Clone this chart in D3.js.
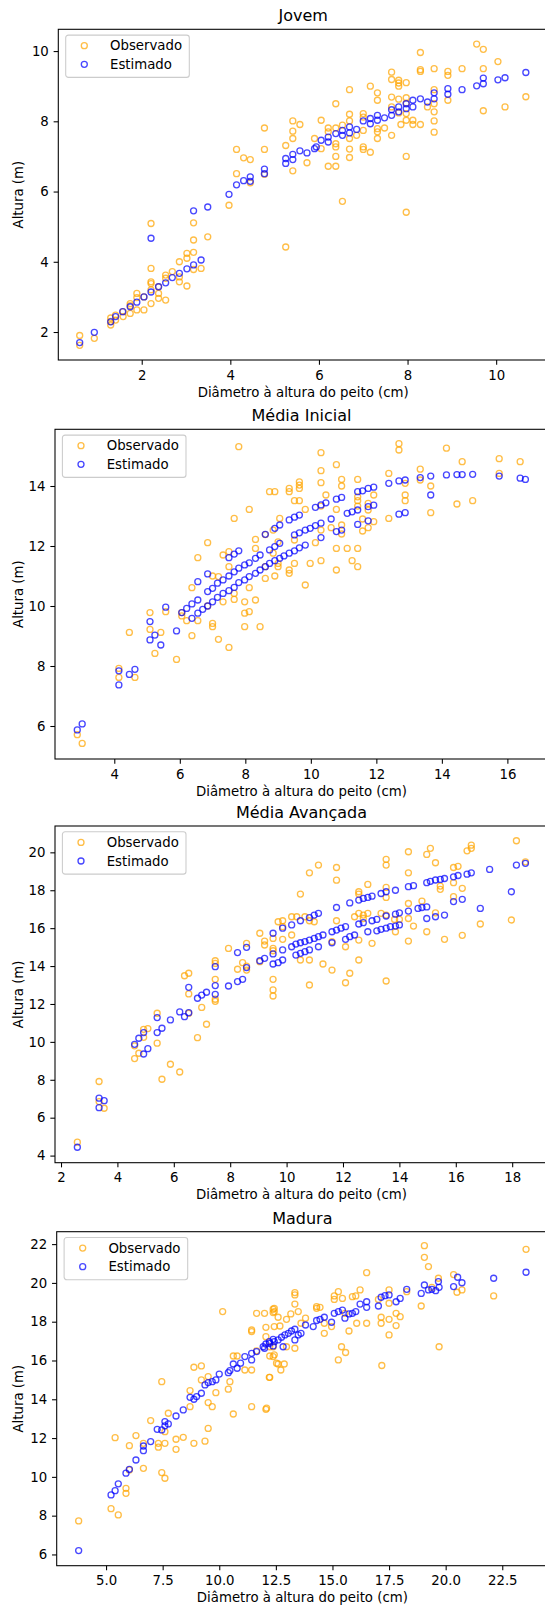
<!DOCTYPE html>
<html>
<head>
<meta charset="utf-8">
<script src="https://cdn.jsdelivr.net/npm/d3@7"></script>
<style>
  body { margin: 0; background: #fff; }
  svg { display: block; font-family: "DejaVu Sans", sans-serif; }
</style>
</head>
<body>
<svg id="chart" width="545" height="1606"></svg>
<script>
// ---- data: [dap (cm), altura (m)] ----
const jovemObs = [[0.6,1.9],[0.6,1.62],[0.93,1.82],[1.3,2.4],[1.3,2.3],[1.3,2.2],[1.41,2.34],[1.41,2.48],[1.58,2.44],[1.58,2.58],[1.74,2.53],[1.74,2.81],[1.74,2.75],[1.89,3.1],[1.89,2.98],[1.89,2.63],[2.05,2.63],[2.05,3.0],[2.21,5.09],[2.21,3.81],[2.21,3.43],[2.21,3.38],[2.21,2.81],[2.21,3.2],[2.38,2.96],[2.38,3.1],[2.38,3.29],[2.54,2.91],[2.54,3.62],[2.54,3.53],[2.69,3.72],[2.85,4.0],[2.85,3.43],[2.85,3.57],[3.02,4.24],[3.02,4.1],[3.02,3.31],[3.17,5.11],[3.17,4.62],[3.17,4.27],[3.17,3.78],[3.34,3.81],[3.49,4.71],[3.97,5.61],[4.14,7.2],[4.14,6.51],[4.3,6.96],[4.45,6.91],[4.45,6.25],[4.77,7.81],[4.77,7.2],[4.77,6.49],
  [5.25,7.31],[5.25,4.42],[5.41,8.01],[5.41,7.72],[5.41,7.51],[5.41,6.59],[5.57,7.91],[5.73,6.82],[5.9,7.51],[6.05,8.03],[6.05,7.22],[6.21,7.81],[6.21,7.7],[6.21,6.72],[6.38,8.5],[6.38,7.81],[6.38,7.36],[6.38,7.27],[6.38,7.0],[6.38,6.72],[6.53,5.72],[6.53,7.89],[6.69,8.9],[6.69,8.2],[6.69,8.01],[6.69,7.51],[6.69,7.21],[6.69,6.97],[6.85,7.6],[7.0,8.22],[7.0,8.12],[7.0,7.74],[7.0,7.27],[7.0,7.2],[7.16,9.0],[7.16,7.12],[7.32,8.81],[7.32,8.6],[7.32,7.79],[7.32,7.7],[7.32,7.51],[7.48,7.81],[7.64,9.4],[7.64,9.19],[7.64,8.69],[7.64,8.41],[7.64,7.6],[7.8,9.17],[7.8,9.09],[7.8,9.0],[7.8,8.63],[7.8,8.24],[7.85,7.91],[7.97,9.1],[7.97,8.67],[7.97,8.52],[7.97,8.22],[7.97,8.03],[7.97,7.0],[7.97,5.41],[8.12,8.03],[8.12,7.91],[8.29,9.96],[8.29,9.47],[8.29,9.42],[8.29,7.91],[8.45,8.41],[8.6,9.5],[8.6,8.9],[8.6,8.5],[8.6,8.27],[8.6,8.01],[8.6,7.69],[8.91,9.42],[8.91,9.31],[8.91,8.6],[9.23,9.5],[9.56,10.2],[9.71,10.05],[9.71,9.5],[9.71,8.3],[10.04,9.7],[10.2,8.41],[10.67,8.7]];
const jovemEst = [[0.6,1.7],[0.93,1.99],[1.3,2.29],[1.41,2.44],[1.57,2.58],[1.74,2.72],[1.89,2.85],[2.05,3.0],[2.21,3.14],[2.21,4.67],[2.38,3.29],[2.54,3.4],[2.69,3.55],[2.85,3.67],[3.02,3.8],[3.17,3.91],[3.17,5.45],[3.34,4.05],[3.49,5.56],[3.97,5.92],[4.14,6.19],[4.3,6.31],[4.45,6.42],[4.45,6.29],[4.77,6.64],[4.77,6.51],
  [5.25,6.94],[5.25,6.8],[5.41,7.06],[5.41,6.91],[5.57,7.16],[5.73,7.1],[5.9,7.22],[5.94,7.27],[6.05,7.46],[6.21,7.55],[6.21,7.41],[6.38,7.65],[6.53,7.74],[6.53,7.6],[6.69,7.84],[6.69,7.67],[6.85,7.77],[7.0,8.01],[7.16,8.08],[7.16,7.93],[7.32,8.17],[7.32,8.03],[7.48,8.1],[7.64,8.33],[7.64,8.17],[7.8,8.41],[7.8,8.27],[7.97,8.5],[7.97,8.36],[8.12,8.6],[8.12,8.41],[8.29,8.64],[8.45,8.55],[8.6,8.81],[8.6,8.64],[8.91,8.93],[8.91,8.77],[9.23,8.9],[9.56,9.01],[9.71,9.07],[9.71,9.23],[10.04,9.18],[10.2,9.24],[10.67,9.39]];

const inicialObs = [[2.87,5.71],[3.02,5.42],[4.14,7.92],[4.14,7.62],[4.46,9.12],[4.63,7.62],[5.09,9.78],[5.09,9.22],[5.24,8.42],[5.42,9.12],[5.57,9.81],[5.9,8.22],[6.06,9.78],[6.06,9.67],[6.21,9.51],[6.37,10.61],[6.37,9.01],[6.55,11.61],[6.55,9.51],[6.85,12.11],[6.85,10.0],[7.0,11.0],[7.0,9.42],[7.0,9.31],[7.18,8.89],[7.18,10.98],[7.32,11.7],[7.32,10.14],[7.5,11.81],[7.5,11.31],[7.5,8.62],[7.66,12.92],[7.66,10.22],[7.66,10.42],[7.8,15.31],[7.98,9.76],[7.98,9.31],[7.98,10.14],[8.12,13.22],[8.12,9.81],[8.12,10.61],[8.31,10.2],[8.31,11.92],[8.31,12.22],[8.45,9.31],[8.61,10.92],[8.61,12.38],[8.61,11.31],[8.74,13.81],[8.9,13.81],[8.9,11.0],[9.05,12.92],[8.85,12.53],[8.85,11.76],[9.0,12.14],[9.0,11.42],[9.0,11.31],
  [9.34,13.92],[9.34,13.81],[9.34,11.2],[9.34,11.09],[9.5,13.51],[9.5,11.42],[9.5,12.2],[9.65,14.14],[9.65,14.03],[9.65,13.92],[9.65,13.51],[9.83,13.22],[9.83,10.7],[9.98,11.42],[10.14,12.11],[10.31,15.11],[10.31,14.51],[10.31,14.11],[10.31,13.33],[10.31,12.53],[10.31,11.51],[10.46,13.7],[10.62,12.61],[10.78,14.71],[10.78,13.22],[10.78,11.92],[10.78,11.2],[10.94,14.22],[10.94,14.0],[10.94,12.7],[10.94,12.4],[11.11,11.92],[11.26,11.51],[11.43,14.22],[11.43,13.64],[11.43,13.51],[11.43,13.33],[11.43,11.92],[11.43,11.31],[11.58,12.5],[11.58,12.9],[11.75,13.42],[11.75,13.2],[11.75,12.61],[11.92,13.7],[11.92,12.81],[12.38,14.42],[12.38,12.92],[12.69,15.41],[12.69,15.2],[12.88,14.09],[12.88,13.7],[12.88,13.51],[13.34,14.56],[13.34,14.2],[13.66,14.0],[13.66,13.11],[14.14,15.26],[14.46,13.4],[14.62,14.81],[14.94,13.51],[15.75,14.91],[15.75,14.42],[16.39,14.81]];
const inicialEst = [[2.87,5.87],[3.02,6.07],[4.14,7.84],[4.14,7.37],[4.46,7.72],[4.63,7.89],[5.09,9.48],[5.09,8.87],[5.24,9.03],[5.42,8.7],[5.57,9.96],[5.9,9.17],[6.06,9.78],[6.21,9.92],[6.37,10.07],[6.37,9.59],[6.55,10.81],[6.55,10.2],[6.55,9.76],[6.7,9.89],[6.85,11.07],[6.85,10.48],[6.85,10.0],[7.0,10.59],[7.0,10.14],[7.15,10.76],[7.15,10.29],[7.32,10.87],[7.32,10.42],[7.5,11.61],[7.5,11.0],[7.5,10.51],[7.66,11.73],[7.66,11.14],[7.66,10.62],[7.8,11.84],[7.8,11.26],[7.8,10.78],[7.98,11.37],[7.98,10.87],[8.12,11.44],[8.12,10.98],[8.31,11.59],[8.31,11.09],[8.45,11.7],[8.45,11.2],[8.61,12.39],[8.61,11.31],[8.74,11.87],[8.74,11.42],[8.9,12.59],[8.9,11.98],[8.9,11.51],[9.05,12.7],[9.05,12.09],[9.05,11.59],
  [9.34,12.87],[9.5,12.96],[9.65,13.03],[10.14,13.29],[10.31,13.37],[10.46,13.44],[10.78,13.56],[10.94,13.62],[11.43,13.81],[11.58,13.84],[11.75,13.92],[11.92,13.96],[12.38,14.09],[12.69,14.17],[12.88,14.2],[13.34,14.28],[13.66,14.33],[14.14,14.37],[14.46,14.38],[14.62,14.38],[14.94,14.39],[15.75,14.33],[16.39,14.26],[16.55,14.22],
  [9.5,12.37],[9.65,12.44],[9.83,12.53],[9.98,12.59],[10.14,12.68],[10.31,12.76],[10.31,12.28],[10.62,12.9],[10.78,12.48],[10.94,12.53],[11.11,13.09],[11.26,13.14],[11.43,13.2],[11.43,12.72],[11.75,13.31],[11.75,12.84],[11.92,13.36],[12.69,13.06],[12.88,13.11],[13.66,13.7],
  [9.18,11.67],[9.34,11.76],[9.5,11.84],[9.65,11.94],[9.83,12.03]];

const avancadaObs = [[2.58,4.71],[3.35,7.91],[3.35,6.85],[3.53,6.5],[4.61,9.79],[4.61,9.12],[4.76,9.4],[4.93,10.66],[4.93,10.24],[5.08,10.7],[5.41,11.51],[5.41,9.93],[5.58,8.03],[5.88,8.82],[6.21,8.41],[6.38,13.49],[6.53,13.62],[6.53,12.53],[6.53,11.51],[6.84,10.22],[6.99,11.82],[7.16,10.93],[7.47,14.28],[7.47,14.14],[7.47,13.3],[7.47,12.25],[7.47,12.14],[7.94,14.93],[8.26,13.83],[8.44,14.18],[8.58,15.2],[8.58,14.0],[8.58,13.79],[9.05,15.73],[9.05,14.23],[9.22,15.32],[9.22,15.11],[9.52,15.46],[9.52,14.93],[9.52,14.81],[9.52,13.3],[9.52,12.74],[9.52,12.42],[9.7,16.34],
  [9.86,16.39],[9.86,16.08],[9.86,15.41],[10.18,16.6],[10.18,15.64],[10.36,16.6],[10.49,17.8],[10.49,14.32],[10.65,16.6],[10.81,18.92],[10.81,16.39],[10.81,14.32],[10.81,13.0],[10.98,16.34],[11.13,19.33],[11.29,14.11],[11.61,13.79],[11.61,15.29],[11.77,19.2],[11.77,18.53],[11.77,16.39],[12.09,15.02],[12.09,13.12],[12.24,13.62],[12.41,16.6],[12.56,17.92],[12.56,17.8],[12.56,16.78],[12.56,15.37],[12.56,14.32],[12.72,16.69],[12.72,16.51],[12.88,18.31],[12.88,16.78],[13.03,15.2],[13.35,16.78],[13.53,19.63],[13.53,19.33],[13.53,18.15],[13.53,17.62],[13.53,16.69],[13.53,13.21],[13.83,16.46],[13.86,15.81],[14.0,16.46],[14.32,20.03],[14.32,18.92],[14.32,17.3],[14.32,16.51],[14.32,15.32],[14.5,16.11],[14.8,17.43],[14.97,19.89],[14.97,15.81],[15.1,20.21],[15.28,19.45],[15.28,16.81],[15.45,18.22],[15.45,18.05],[15.6,15.41],[15.92,19.2],[15.92,18.4],[15.92,17.66],[16.08,19.26],[16.23,18.1],[16.23,15.62],[16.4,20.08],[16.55,20.38],[16.55,20.21],[16.87,16.22],[17.97,16.43],[18.15,20.61],[18.47,19.5]];
const avancadaEst = [[2.58,4.44],[3.35,7.03],[3.35,6.53],[3.53,6.9],[4.61,9.87],[4.76,10.19],[4.93,10.49],[4.93,9.36],[5.08,9.64],[5.41,11.28],[5.41,10.49],[5.58,10.72],[5.88,11.16],[6.21,11.58],[6.38,11.33],[6.53,11.54],[6.53,12.88],[6.84,12.3],[6.99,12.47],[7.16,12.62],[7.47,13.97],[7.47,12.97],[7.47,12.51],[7.94,12.95],[8.26,14.71],[8.26,13.18],[8.44,13.3],[8.58,14.99],[8.58,13.92],[9.05,14.28],[9.22,14.41],[9.52,15.73],[9.52,14.64],[9.52,14.11],[9.7,14.18],
  [9.86,16.0],[9.86,14.85],[9.86,14.32],[10.18,16.17],[10.18,15.02],[10.33,15.16],[10.33,14.58],[10.49,16.39],[10.49,15.23],[10.49,14.67],[10.65,15.29],[10.65,14.76],[10.81,16.56],[10.81,15.37],[10.81,14.85],[10.98,16.69],[10.98,15.46],[11.13,16.78],[11.13,15.55],[11.13,15.02],[11.29,15.64],[11.61,15.81],[11.61,15.23],[11.77,17.09],[11.77,15.9],[11.93,16.0],[12.09,16.08],[12.09,15.41],[12.24,17.33],[12.24,15.55],[12.41,15.64],[12.56,17.48],[12.56,16.22],[12.72,17.57],[12.72,16.29],[12.88,17.62],[12.88,15.81],[13.03,17.69],[13.03,16.39],[13.2,16.46],[13.2,15.86],[13.35,17.83],[13.35,15.94],[13.53,17.92],[13.53,16.64],[13.53,16.0],[13.68,16.08],[13.86,18.0],[13.86,16.74],[13.86,16.11],[14.0,16.81],[14.0,16.17],[14.32,18.19],[14.32,16.9],[14.5,18.24],[14.66,17.04],[14.8,17.09],[14.97,17.12],[14.97,16.51],[14.97,18.4],[15.1,18.47],[15.28,18.54],[15.45,18.57],[15.6,18.62],[15.28,16.6],[15.6,16.69],[15.92,18.71],[15.92,17.4],[16.08,18.78],[16.23,17.52],[16.4,18.85],[16.55,18.92],[16.87,17.04],[17.2,19.1],[17.97,17.92],[18.15,19.33],[18.47,19.42]];

const maduraObs = [[3.79,7.73],[5.22,8.36],[5.54,8.04],[5.4,12.02],[5.88,9.41],[5.88,9.15],[6.03,11.61],[6.03,10.36],[6.32,12.13],[6.65,11.73],[6.65,10.44],[6.97,12.9],[7.31,11.73],[7.31,11.53],[7.46,10.22],[7.6,9.93],[7.46,14.91],[7.6,12.33],[7.6,11.73],[7.75,13.28],[8.09,11.94],[8.09,11.42],[8.41,12.04],[8.71,13.62],[8.71,14.45],[8.88,11.73],[8.88,15.65],[9.21,15.72],[9.21,15.0],[9.37,11.84],[9.51,12.5],[9.51,15.17],[9.51,13.83],[9.69,13.62],[9.85,14.34],[10.15,18.52],[10.4,14.52],[10.47,14.91],[10.62,13.24],[10.62,16.23],[10.79,16.23],[11.13,15.51],[11.43,13.62],[11.43,15.51],[11.43,17.49],[11.43,17.57],[11.65,18.43],[11.65,16.5],[12.06,13.48],[12.06,17.71],[12.06,17.23],[12.21,15.13],[12.38,18.64],[12.38,18.47],[12.38,16.71],[12.38,16.2],[12.53,15.86],
  [12.0,18.43],[12.23,16.23],[12.23,16.71],[12.43,18.69],[12.43,18.52],[12.43,17.75],[12.43,16.29],[12.6,18.23],[12.68,17.78],[12.6,15.82],[12.72,15.51],[12.87,15.82],[12.23,15.13],[12.09,13.54],[12.97,18.12],[12.97,16.71],[13.16,18.4],[13.34,19.5],[13.34,19.38],[13.34,18.91],[13.34,16.63],[13.49,18.52],[13.61,17.92],[13.81,18.18],[14.3,18.78],[14.3,18.69],[14.45,18.74],[14.64,17.4],[14.64,17.92],[14.96,17.75],[15.08,19.33],[15.08,19.15],[15.26,19.55],[15.26,16.03],[15.4,16.71],[15.58,16.41],[15.44,19.2],[15.55,18.43],[15.73,17.52],[15.88,19.29],[16.03,19.33],[16.07,17.92],[16.22,19.64],[16.51,20.53],[16.51,17.92],[17.03,19.15],[17.15,18.23],[17.15,17.92],[17.18,15.74],[17.5,19.64],[17.5,18.95],[17.5,18.12],[17.5,17.32],[17.81,18.43],[17.81,17.8],[17.99,18.26],[18.28,19.55],[18.92,18.81],[19.06,21.92],[19.06,21.32],[19.24,20.84],[19.39,19.77],[19.68,20.24],[19.71,16.71],[20.35,20.43],[20.5,19.52],[20.72,19.64],[22.12,19.33],[23.55,21.73]];
const maduraEst = [[3.79,6.2],[5.22,9.07],[5.4,9.29],[5.54,9.64],[5.88,10.19],[6.03,10.39],[6.32,10.87],[6.65,11.59],[6.65,11.35],[6.97,11.82],[7.26,12.45],[7.46,12.42],[7.6,12.85],[7.6,12.63],[7.75,12.73],[8.09,13.14],[8.41,13.45],[8.71,14.1],[8.88,14.0],[9.0,14.14],[9.21,14.31],[9.37,14.74],[9.51,14.86],[9.69,14.91],[9.85,15.0],[10.0,15.3],[10.4,15.37],[10.47,15.48],[10.62,15.82],[10.79,15.6],[10.94,15.86],[11.13,16.2],[11.43,16.37],[11.43,16.03],[11.65,16.46],[11.94,16.71],[12.06,16.85],[12.21,16.97],[12.38,17.09],[12.38,16.75],
  [12.0,16.63],[12.23,16.89],[12.43,16.97],[12.6,17.06],[12.75,17.2],[12.9,17.32],[13.05,17.4],[13.19,17.52],[13.34,17.61],[13.49,17.32],[13.61,17.4],[13.81,17.83],[13.34,17.06],[12.82,16.71],[14.15,17.75],[14.3,18.06],[14.45,18.12],[14.64,18.23],[14.96,17.97],[15.08,18.43],[15.26,18.52],[15.44,18.6],[15.55,18.18],[15.73,18.4],[15.88,18.43],[16.03,18.52],[16.22,18.91],[16.51,19.03],[16.51,18.74],[17.03,18.81],[17.15,19.26],[17.32,19.34],[17.5,19.38],[17.81,19.03],[17.99,19.2],[18.28,19.67],[18.92,19.46],[19.06,19.89],[19.24,19.64],[19.39,19.67],[19.56,19.6],[19.68,20.07],[19.71,19.77],[20.35,19.81],[20.53,20.29],[20.72,20.01],[22.12,20.24],[23.55,20.55]];

// tick values per panel
const jovemXTicks = [2, 4, 6, 8, 10];
const jovemYTicks = [2, 4, 6, 8, 10];
const inicialXTicks = [4, 6, 8, 10, 12, 14, 16];
const inicialYTicks = [6, 8, 10, 12, 14];
const avancadaXTicks = [2, 4, 6, 8, 10, 12, 14, 16, 18];
const avancadaYTicks = [4, 6, 8, 10, 12, 14, 16, 18, 20];
const maduraXTicks = [5, 7.5, 10, 12.5, 15, 17.5, 20, 22.5];
const maduraYTicks = [6, 8, 10, 12, 14, 16, 18, 20, 22];

const titles = ["Jovem", "Média Inicial", "Média Avançada", "Madura"];
const seriesNames = ["Observado", "Estimado"];
const colors = ["#ffa500", "#0000ff"];

// ---- layout ----
const svg = d3.select('#chart');
const axRight = 548;
const panels = [
  { title: titles[0], obs: jovemObs, est: jovemEst, xt: jovemXTicks, yt: jovemYTicks, fmt: d3.format('d'),
    left: 58.3, top: 29.3, bottom: 360, xd: [0.117, 11.17], yd: [1.203, 10.62] },
  { title: titles[1], obs: inicialObs, est: inicialEst, xt: inicialXTicks, yt: inicialYTicks, fmt: d3.format('d'),
    left: 55, top: 429.3, bottom: 759, xd: [2.19, 17.24], yd: [4.9, 15.89] },
  { title: titles[2], obs: avancadaObs, est: avancadaEst, xt: avancadaXTicks, yt: avancadaYTicks, fmt: d3.format('d'),
    left: 55, top: 826, bottom: 1162.7, xd: [1.787, 19.27], yd: [3.625, 21.39] },
  { title: titles[3], obs: maduraObs, est: maduraEst, xt: maduraXTicks, yt: maduraYTicks, fmt: d3.format('.1f'),
    left: 56.7, top: 1231.7, bottom: 1565.7, xd: [2.82, 24.52], yd: [5.42, 22.64] }
];

panels.forEach( p => DrawPanel(p) );

function DrawPanel( p ) {
  const x = d3.scaleLinear().domain(p.xd).range([p.left, axRight]);
  const y = d3.scaleLinear().domain(p.yd).range([p.bottom, p.top]);
  const g = svg.append('g');

  // points: observed first, estimated on top
  [p.obs, p.est].forEach( (data, i) => {
    g.append('g').selectAll('circle')
      .data(data)
      .enter().append('circle')
      .attr('cx', d => x(d[0]))
      .attr('cy', d => y(d[1]))
      .attr('r', 3)
      .attr('fill', 'none')
      .attr('stroke', colors[i])
      .attr('stroke-opacity', 0.72)
      .attr('stroke-width', 1.33);
  });

  // axes
  const xAxis = g.append('g')
    .attr('transform', `translate(0,${p.bottom})`)
    .call(d3.axisBottom(x).tickValues(p.xt).tickFormat(p.fmt).tickSize(4.67).tickSizeOuter(0).tickPadding(5.5));
  const yAxis = g.append('g')
    .attr('transform', `translate(${p.left},0)`)
    .call(d3.axisLeft(y).tickValues(p.yt).tickFormat(d3.format('d')).tickSize(4.67).tickSizeOuter(0).tickPadding(4.8));
  [xAxis, yAxis].forEach( a => {
    a.select('.domain').remove();
    a.selectAll('line').attr('stroke', '#000').attr('stroke-width', 1.07);
    a.selectAll('text').attr('font-size', 13.3).attr('fill', '#000').attr('font-family', 'DejaVu Sans');
  });

  // spines
  g.append('rect')
    .attr('x', p.left).attr('y', p.top)
    .attr('width', axRight - p.left).attr('height', p.bottom - p.top)
    .attr('fill', 'none').attr('stroke', '#000').attr('stroke-width', 1.07);

  // title and labels
  g.append('text')
    .attr('x', (p.left + axRight) / 2).attr('y', p.top - 8)
    .attr('text-anchor', 'middle').attr('font-size', 16).attr('fill', '#000')
    .text(p.title);
  g.append('text')
    .attr('x', (p.left + axRight) / 2).attr('y', p.bottom + 36.7)
    .attr('text-anchor', 'middle').attr('font-size', 13.3).attr('fill', '#000')
    .text('Diâmetro à altura do peito (cm)');
  g.append('text')
    .attr('transform', `translate(22.5,${(p.top + p.bottom) / 2}) rotate(-90)`)
    .attr('text-anchor', 'middle').attr('font-size', 13.3).attr('fill', '#000')
    .text('Altura (m)');

  // legend
  const lg = g.append('g').attr('transform', `translate(${p.left + 7.4},${p.top + 5.8})`);
  lg.append('rect')
    .attr('width', 123.6).attr('height', 42.3).attr('rx', 2.7)
    .attr('fill', '#fff').attr('fill-opacity', 0.8)
    .attr('stroke', '#cccccc').attr('stroke-width', 1.07);
  seriesNames.forEach( (name, i) => {
    lg.append('circle')
      .attr('cx', 18.6).attr('cy', 10.6 + i * 18.6).attr('r', 3)
      .attr('fill', 'none').attr('stroke', colors[i])
      .attr('stroke-opacity', 0.72).attr('stroke-width', 1.33);
    lg.append('text')
      .attr('x', 44.3).attr('y', 15.2 + i * 18.6)
      .attr('font-size', 13.3).attr('fill', '#000')
      .text(name);
  });
}
</script>
</body>
</html>
